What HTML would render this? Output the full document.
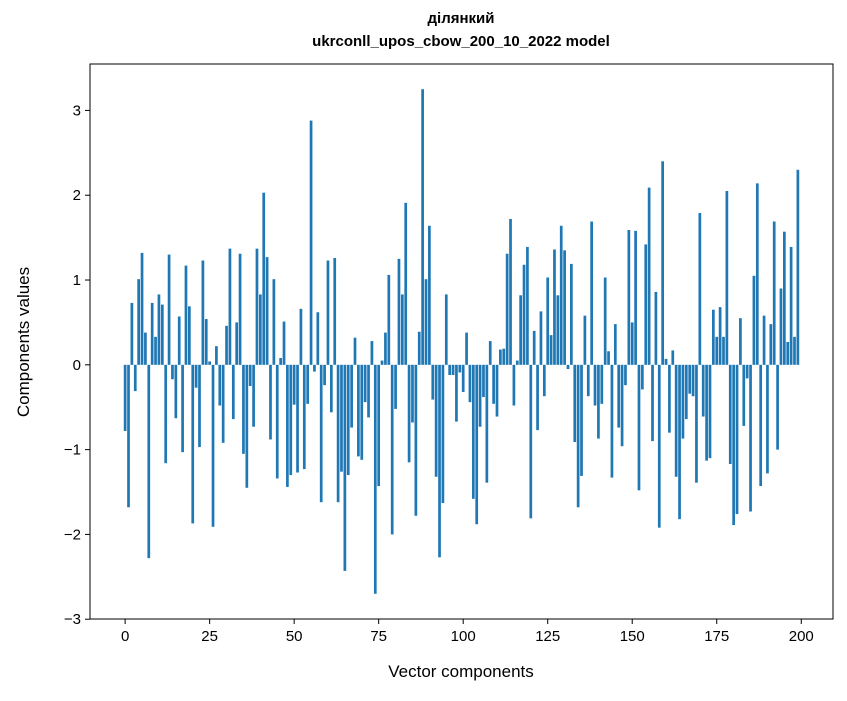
<!DOCTYPE html>
<html><head><meta charset="utf-8"><style>
body{margin:0;background:#fff;font-family:"Liberation Sans","DejaVu Sans",sans-serif}
</style></head><body>
<svg id="chart" width="847" height="696" xmlns="http://www.w3.org/2000/svg" font-family="Liberation Sans, DejaVu Sans, sans-serif">
<rect width="847" height="696" fill="#fff"/>
<text x="461" y="28" text-anchor="middle" font-size="15" font-weight="bold" transform="translate(0,-5)">ділянкий</text>
<text x="461" y="51" text-anchor="middle" font-size="15" font-weight="bold" transform="translate(0,-5)">ukrconll_upos_cbow_200_10_2022 model</text>
<g id="bars"></g>
<g id="axes"></g>
<text x="461" y="677" text-anchor="middle" font-size="17">Vector components</text>
<text transform="translate(29,342) rotate(-90)" text-anchor="middle" font-size="17">Components values</text>
</svg>
<script>
const values = [-0.78,-1.68,0.73,-0.31,1.01,1.32,0.38,-2.28,0.73,0.33,0.83,0.71,-1.16,1.30,-0.17,-0.63,0.57,-1.03,1.17,0.69,
-1.87,-0.27,-0.97,1.23,0.54,0.04,-1.91,0.22,-0.48,-0.92,0.46,1.37,-0.64,0.50,1.31,-1.05,-1.45,-0.25,-0.73,1.37,
0.83,2.03,1.27,-0.88,1.01,-1.34,0.08,0.51,-1.44,-1.30,-0.47,-1.27,0.66,-1.23,-0.46,2.88,-0.08,0.62,-1.62,-0.24,
1.23,-0.56,1.26,-1.62,-1.26,-2.43,-1.30,-0.74,0.32,-1.08,-1.12,-0.44,-0.62,0.28,-2.70,-1.43,0.05,0.38,1.06,-2.00,
-0.52,1.25,0.83,1.91,-1.15,-0.68,-1.78,0.39,3.25,1.01,1.64,-0.41,-1.32,-2.27,-1.63,0.83,-0.12,-0.12,-0.67,-0.09,
-0.32,0.38,-0.44,-1.58,-1.88,-0.73,-0.38,-1.39,0.28,-0.46,-0.61,0.18,0.19,1.31,1.72,-0.48,0.05,0.82,1.18,1.39,
-1.81,0.40,-0.77,0.63,-0.37,1.03,0.35,1.36,0.82,1.64,1.35,-0.05,1.19,-0.91,-1.68,-1.31,0.58,-0.37,1.69,-0.48,
-0.87,-0.46,1.03,0.16,-1.33,0.48,-0.74,-0.96,-0.24,1.59,0.50,1.58,-1.48,-0.29,1.42,2.09,-0.90,0.86,-1.92,2.40,
0.07,-0.80,0.17,-1.32,-1.82,-0.87,-0.64,-0.34,-0.37,-1.39,1.79,-0.61,-1.13,-1.10,0.65,0.33,0.68,0.33,2.05,-1.17,
-1.89,-1.76,0.55,-0.72,-0.16,-1.73,1.05,2.14,-1.43,0.58,-1.28,0.48,1.69,-1.00,0.90,1.57,0.27,1.39,0.33,2.30];
const xTicks = [0,25,50,75,100,125,150,175,200];
const yTicks = [-3,-2,-1,0,1,2,3];

const NS="http://www.w3.org/2000/svg";
const L=90,R=833,T=64,B=619;
const n=values.length;
const dx0=-0.4, dx1=n-1+0.4, mx=(dx1-dx0)*0.05;
const xmin=dx0-mx, xmax=dx1+mx;
const vmin=Math.min(0,...values), vmax=Math.max(0,...values), my=(vmax-vmin)*0.05;
const ymin=vmin-my, ymax=vmax+my;
const xs=v=>L+(v-xmin)/(xmax-xmin)*(R-L);
const ys=v=>B-(v-ymin)/(ymax-ymin)*(B-T);
const bars=document.getElementById('bars');
values.forEach((v,i)=>{
  const r=document.createElementNS(NS,'rect');
  
  
  const x0=xs(i-0.4),x1=xs(i+0.4);
  const y0=ys(Math.max(v,0)),y1=ys(Math.min(v,0));
  r.setAttribute('x',x0);r.setAttribute('width',x1-x0);
  r.setAttribute('y',y0);r.setAttribute('height',Math.max(y1-y0,0.3));
  r.setAttribute('fill','#1f77b4');
  bars.appendChild(r);
});
const ax=document.getElementById('axes');
function mk(tag,attrs,txt){const e=document.createElementNS(NS,tag);for(const k in attrs)e.setAttribute(k,attrs[k]);if(txt!==undefined)e.textContent=txt;ax.appendChild(e);return e;}
const fr=mk('rect',{x:L,y:T,width:R-L,height:B-T,fill:'none',stroke:'#000','stroke-width':1});


xTicks.forEach(t=>{
  const x=xs(t);
  const l=mk('line',{x1:x,x2:x,y1:B,y2:B+5,stroke:'#000'});
  
  
  const tx=mk('text',{x:x,y:B+22,'text-anchor':'middle','font-size':15},String(t));
  
  
});
yTicks.forEach(t=>{
  const y=ys(t);
  const l=mk('line',{x1:L-5,x2:L,y1:y,y2:y,stroke:'#000'});
  
  
  const tx=mk('text',{x:L-9,y:y+5,'text-anchor':'end','font-size':15},(t<0?'\u2212':'')+Math.abs(t));
  
  
});
</script>
</body></html>
